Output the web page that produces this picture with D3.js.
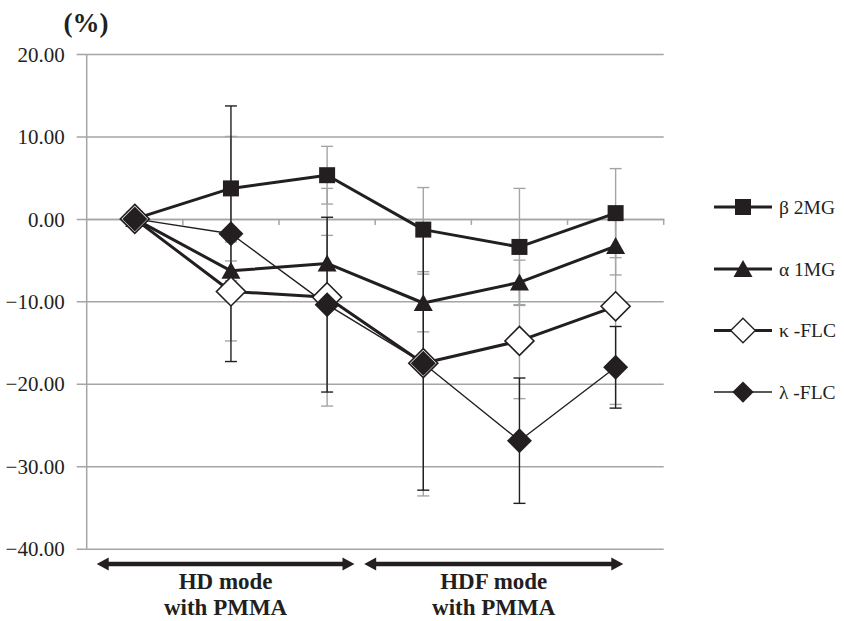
<!DOCTYPE html>
<html>
<head>
<meta charset="utf-8">
<script src="https://cdnjs.cloudflare.com/ajax/libs/d3/7.8.5/d3.min.js"></script>
<style>
  html, body { margin: 0; padding: 0; background: #fff; }
  svg { display: block; }
  svg text { font-family: "Liberation Serif", "Times New Roman", serif; fill: #231f20; }
</style>
</head>
<body>
<div id="chart"></div>
<script>
// change from baseline (%), six time points, mean and SD
const categories = ["T0", "T1", "T2", "T3", "T4", "T5"];

const b2mg   = [0, 3.7, 5.3, -1.3, -3.4, 0.7];
const b2mgSD = [0, 6.3, 3.5, 5.1, 7.1, 5.4];
const a1mg   = [0, -6.3, -5.4, -10.2, -7.7, -3.3];
const a1mgSD = [0, 1.2, 3.4, 3.5, 2.7, 3.5];
const kflc   = [0, -8.8, -9.5, -17.5, -14.8, -10.6];
const kflcSD = [0, 6.0, 13.2, 16.1, 7.0, 11.9];
const lflc   = [0, -1.8, -10.4, -17.5, -26.9, -18.0];
const lflcSD = [0, 15.5, 10.6, 15.4, 7.6, 4.95];

const yTicks = [20, 10, 0, -10, -20, -30, -40];
const modeGroups = [
    { lines: ["HD mode", "with PMMA"], first: "T0", last: "T2" },
    { lines: ["HDF mode", "with PMMA"], first: "T3", last: "T5" }
];

const INK = "#231f20";
const GRID = "#a5a5a5";
const SERIF = "'Liberation Serif', 'Times New Roman', serif";

const width = 844, height = 621;
const plot = { left: 86.7, right: 663.7, top: 54, bottom: 548.7 };

const svg = d3.select("#chart").append("svg")
    .attr("width", width)
    .attr("height", height);

const x = d3.scaleBand().domain(categories).range([plot.left, plot.right]).padding(0);
const cx = c => x(c) + x.bandwidth() / 2;
const y = d3.scaleLinear().domain([-40, 20]).range([plot.bottom, plot.top]);

// series table built from the arrays above
const series = [
    { name: "\u03b2 2MG",  values: b2mg, sd: b2mgSD, marker: "square",   lw: 3,   barColor: GRID },
    { name: "\u03b1 1MG",  values: a1mg, sd: a1mgSD, marker: "triangle", lw: 3,   barColor: GRID },
    { name: "\u03ba -FLC", values: kflc, sd: kflcSD, marker: "open",     lw: 3,   barColor: GRID },
    { name: "\u03bb -FLC", values: lflc, sd: lflcSD, marker: "diamond",  lw: 1.4, barColor: INK }
];

// marker shapes (Excel-like)
function markerPath(type) {
    if (type === "square") return "M-8,-8H8V8H-8Z";
    if (type === "triangle") return "M0,-9L9.5,8L-9.5,8Z";
    if (type === "open") return "M0,-14.5L14.5,0L0,14.5L-14.5,0Z";
    return "M0,-12.5L12.5,0L0,12.5L-12.5,0Z";
}
function drawMarker(sel, type) {
    sel.append("path")
        .attr("d", markerPath(type))
        .attr("fill", type === "open" ? "#fff" : INK)
        .attr("stroke", type === "open" ? INK : "none")
        .attr("stroke-width", 1.6);
}

// gridlines + y axis ticks
const yAxis = d3.axisLeft(y)
    .tickValues(yTicks)
    .tickSize(-(plot.right - plot.left) - 10)
    .tickPadding(12)
    .tickFormat(d3.format(".2f"));

const gy = svg.append("g")
    .attr("transform", `translate(${plot.right},0)`)
    .call(yAxis)
    .attr("font-family", SERIF);
gy.select(".domain").remove();
gy.selectAll(".tick line")
    .attr("x1", 0)
    .attr("x2", -(plot.right - plot.left) - 10)
    .attr("stroke", GRID)
    .attr("stroke-width", 1.5);
gy.selectAll(".tick text")
    .attr("x", -(plot.right - plot.left) - 22)
    .attr("dy", "0.34em")
    .style("font-family", SERIF)
    .style("font-size", "21px")
    .attr("fill", INK)
    .text(d => d3.format(".2f")(d));

// vertical axis line
svg.append("line")
    .attr("x1", plot.left).attr("x2", plot.left)
    .attr("y1", y(20)).attr("y2", y(-40))
    .attr("stroke", GRID).attr("stroke-width", 1.5);

// category axis at zero, ticks pointing down at band edges
const gx = svg.append("g")
    .attr("transform", `translate(0,${y(0)})`)
    .call(d3.axisBottom(x).tickSize(0).tickFormat(""));
gx.select(".domain").attr("stroke", GRID).attr("stroke-width", 1.5);
gx.selectAll(".tick").remove();
gx.selectAll(".cat-tick")
    .data(categories)
    .enter()
    .append("line")
    .attr("class", "cat-tick")
    .attr("x1", c => x(c) + x.bandwidth())
    .attr("x2", c => x(c) + x.bandwidth())
    .attr("y1", 0).attr("y2", 6)
    .attr("stroke", GRID).attr("stroke-width", 1.5);

// error bars (gray ones first, black on top)
const barOrder = series.filter(s => s.barColor === GRID).concat(series.filter(s => s.barColor !== GRID));
barOrder.forEach(s => {
    const g = svg.append("g").attr("class", "err");
    const pts = categories.map((c, i) => ({ c, v: s.values[i], sd: s.sd[i] })).filter(d => d.sd > 0);
    g.selectAll("line.v").data(pts).enter().append("line")
        .attr("x1", d => cx(d.c)).attr("x2", d => cx(d.c))
        .attr("y1", d => y(d.v + d.sd)).attr("y2", d => y(d.v - d.sd))
        .attr("stroke", s.barColor).attr("stroke-width", 1.4);
    [1, -1].forEach(sign => {
        g.selectAll(null).data(pts).enter().append("line")
            .attr("x1", d => cx(d.c) - 6).attr("x2", d => cx(d.c) + 6)
            .attr("y1", d => y(d.v + sign * d.sd)).attr("y2", d => y(d.v + sign * d.sd))
            .attr("stroke", s.barColor).attr("stroke-width", 1.4);
    });
});

// lines and markers
const line = d3.line().x((v, i) => cx(categories[i])).y(v => y(v));
series.forEach(s => {
    svg.append("path")
        .datum(s.values)
        .attr("d", line)
        .attr("fill", "none")
        .attr("stroke", INK)
        .attr("stroke-width", s.lw)
        .attr("stroke-linejoin", "round");
});
series.forEach(s => {
    svg.append("g").selectAll("g")
        .data(s.values)
        .enter()
        .append("g")
        .attr("transform", (v, i) => `translate(${cx(categories[i])},${y(v)})`)
        .each(function () { drawMarker(d3.select(this), s.marker); });
});

// unit label
svg.append("text")
    .attr("x", 86).attr("y", 32)
    .attr("text-anchor", "middle")
    .attr("font-family", SERIF)
    .style("font-size", "27px")
    .style("font-weight", "bold")
    .text("(%)");

// legend
const legendY = [207, 269, 330.5, 392];
const lg = svg.append("g").selectAll("g")
    .data(series)
    .enter()
    .append("g")
    .attr("transform", (d, i) => `translate(0,${legendY[i]})`);
lg.append("line")
    .attr("x1", 714).attr("x2", 772)
    .attr("stroke", INK)
    .attr("stroke-width", d => d.lw);
lg.append("g")
    .attr("transform", d => `translate(743,0) scale(${d.marker === "open" || d.marker === "diamond" ? 0.85 : 1})`)
    .each(function (d) { drawMarker(d3.select(this), d.marker); });
lg.append("text")
    .attr("x", 779).attr("y", 0)
    .attr("dy", "0.35em")
    .attr("font-family", SERIF)
    .style("font-size", "19.5px")
    .text(d => d.name);

// mode arrows below the plot
const arrowY = 564;
const head = 12;
function arrow(x1, x2) {
    const g = svg.append("g");
    g.append("line")
        .attr("x1", x1 + head - 2).attr("x2", x2 - head + 2)
        .attr("y1", arrowY).attr("y2", arrowY)
        .attr("stroke", INK).attr("stroke-width", 4.5);
    g.append("path")
        .attr("d", `M${x1},${arrowY}L${x1 + head},${arrowY - 6.5}L${x1 + head},${arrowY + 6.5}Z`)
        .attr("fill", INK);
    g.append("path")
        .attr("d", `M${x2},${arrowY}L${x2 - head},${arrowY - 6.5}L${x2 - head},${arrowY + 6.5}Z`)
        .attr("fill", INK);
}
const arrowSpans = [
    [x(modeGroups[0].first) + 10, x(modeGroups[0].last) + x.bandwidth() - 20.7],
    [x(modeGroups[1].first) - 11, x(modeGroups[1].last) + x.bandwidth() - 40.4]
];
modeGroups.forEach((grp, i) => {
    const [a, b] = arrowSpans[i];
    arrow(a, b);
    const t = svg.append("text")
        .attr("x", (a + b) / 2)
        .attr("y", 589)
        .attr("text-anchor", "middle")
        .attr("font-family", SERIF)
        .style("font-size", "23px")
        .style("font-weight", "bold");
    grp.lines.forEach((ln, j) => {
        t.append("tspan")
            .attr("x", (a + b) / 2)
            .attr("dy", j === 0 ? 0 : 26)
            .text(ln);
    });
});
</script>
</body>
</html>
